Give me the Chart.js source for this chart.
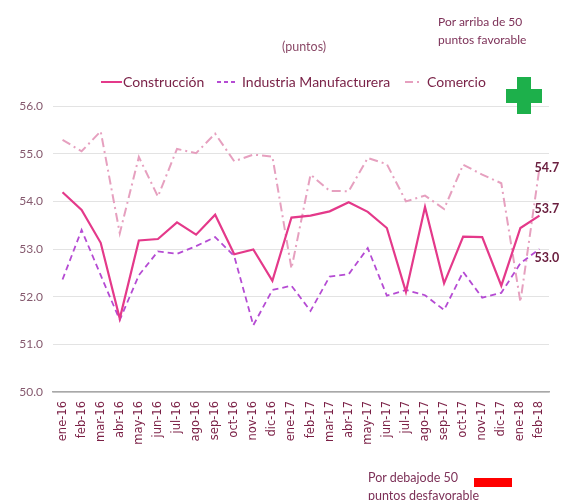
<!DOCTYPE html>
<html>
<head>
<meta charset="utf-8">
<script src="https://cdn.jsdelivr.net/npm/chart.js@4.4.1/dist/chart.umd.min.js"></script>
<style>
  html, body { margin: 0; padding: 0; background: #ffffff; }
  #wrap { position: relative; width: 567px; height: 500px; overflow: hidden; }
  #c { position: absolute; left: 0; top: 0; }
  .note { position: absolute; font-family: Lato, "Open Sans", sans-serif; color: #7d3158; white-space: nowrap; }
</style>
</head>
<body>
<div id="wrap">
  <canvas id="c" width="567" height="500"></canvas>
  <div class="note" style="left:282px; top:39px; font-size:12.5px; line-height:16px; color:#8b4a68;">(puntos)</div>
  <div class="note" style="left:438px; top:13px; font-size:12px; line-height:18px;">Por arriba de 50<br>puntos favorable</div>
  <div class="note" style="left:368px; top:469px; font-size:12.5px; line-height:18px;">Por debajode 50<br>puntos desfavorable</div>
  <div style="position:absolute; left:517px; top:77px; width:14px; height:37px; background:#1db04b;"></div>
  <div style="position:absolute; left:506px; top:89px; width:36px; height:14px; background:#1db04b;"></div>
  <div style="position:absolute; left:474px; top:478px; width:38px; height:9px; background:#ff0000;"></div>
</div>
<script>
const categories = ["ene-16","feb-16","mar-16","abr-16","may-16","jun-16","jul-16","ago-16","sep-16","oct-16","nov-16","dic-16",
  "ene-17","feb-17","mar-17","abr-17","may-17","jun-17","jul-17","ago-17","sep-17","oct-17","nov-17","dic-17","ene-18","feb-18"];
const construccion = [54.19, 53.82, 53.13, 51.54, 53.18, 53.21, 53.56, 53.30, 53.72, 52.89, 52.99, 52.33,
  53.66, 53.70, 53.79, 53.98, 53.78, 53.44, 52.10, 53.88, 52.28, 53.26, 53.25, 52.23, 53.44, 53.7];
const industria = [52.36, 53.40, 52.45, 51.51, 52.45, 52.95, 52.90, 53.06, 53.25, 52.85, 51.40, 52.14,
  52.23, 51.70, 52.42, 52.47, 53.02, 52.02, 52.14, 52.03, 51.72, 52.52, 51.98, 52.08, 52.70, 53.0];
const comercio = [55.29, 55.05, 55.47, 53.33, 54.93, 54.10, 55.10, 55.01, 55.42, 54.84, 54.98, 54.94,
  52.59, 54.56, 54.22, 54.21, 54.91, 54.78, 54.00, 54.12, 53.84, 54.77, 54.56, 54.38, 51.89, 54.7];
const seriesNames = ["Construcción", "Industria Manufacturera", "Comercio"];
const yMin = 50, yMax = 56, yStep = 1;

const maroon = '#7a2348';

const customLegend = {
  id: 'customLegend',
  afterDraw(chart) {
    const ctx = chart.ctx;
    const sampleX = [101, 217, 405];
    const sampleW = [21, 20, 15];
    const textX = [123, 242, 427];
    const y = 82;
    ctx.save();
    ctx.font = '14px Lato, "Open Sans", sans-serif';
    ctx.textBaseline = 'middle';
    ctx.textAlign = 'left';
    chart.data.datasets.forEach((ds, i) => {
      ctx.strokeStyle = ds.borderColor;
      ctx.lineWidth = 2;
      ctx.setLineDash(ds.legendDash || []);
      ctx.beginPath();
      ctx.moveTo(sampleX[i], y);
      ctx.lineTo(sampleX[i] + sampleW[i], y);
      ctx.stroke();
      ctx.setLineDash([]);
      ctx.fillStyle = maroon;
      ctx.fillText(ds.label, textX[i], y);
    });
    ctx.restore();
  }
};

const endLabels = {
  id: 'endLabels',
  afterDatasetsDraw(chart) {
    const ctx = chart.ctx;
    const offsets = [-7, 9, 0];
    ctx.save();
    ctx.font = 'bold 12.5px Lato, "Open Sans", sans-serif';
    ctx.fillStyle = '#6b2040';
    ctx.textAlign = 'left';
    ctx.textBaseline = 'middle';
    chart.data.datasets.forEach((ds, i) => {
      const meta = chart.getDatasetMeta(i);
      const last = meta.data[meta.data.length - 1];
      const v = ds.data[ds.data.length - 1];
      ctx.fillText(v.toFixed(1), last.x - 5, last.y + offsets[i]);
    });
    ctx.restore();
  }
};

new Chart(document.getElementById('c'), {
  type: 'line',
  data: {
    labels: categories,
    datasets: [
      { label: seriesNames[0], data: construccion, borderColor: '#e4398a', borderWidth: 2.2,
        pointRadius: 0, tension: 0, fill: false, legendDash: [] },
      { label: seriesNames[1], data: industria, borderColor: '#b54bd3', borderWidth: 1.8, borderDash: [6, 4],
        pointRadius: 0, tension: 0, fill: false, legendDash: [4, 3] },
      { label: seriesNames[2], data: comercio, borderColor: '#e6a0bf', borderWidth: 2, borderDash: [9, 4, 2, 4],
        pointRadius: 0, tension: 0, fill: false, legendDash: [8, 4, 2, 4] }
    ]
  },
  options: {
    responsive: false,
    animation: false,
    devicePixelRatio: 1,
    layout: { padding: { left: 0, right: 18, top: 106, bottom: 48 } },
    plugins: {
      legend: { display: false },
      title: { display: false },
      tooltip: { enabled: false }
    },
    scales: {
      x: {
        offset: true,
        grid: { display: false, drawTicks: false },
        border: { display: true, color: '#a8a8a8', width: 1.5 },
        ticks: {
          autoSkip: false, minRotation: 90, maxRotation: 90, padding: 9,
          color: '#7a1f45', font: { family: '"DejaVu Sans", Verdana, sans-serif', size: 11.5 }
        },
        afterFit(scale) { scale.height = 60; }
      },
      y: {
        min: yMin, max: yMax,
        grid: { color: '#e3e3e3', lineWidth: 1, drawTicks: false },
        border: { display: false },
        ticks: {
          stepSize: yStep, padding: 10, color: '#85596e',
          font: { family: 'Lato, "Open Sans", sans-serif', size: 12 },
          callback: v => Number(v).toFixed(1)
        },
        afterFit(scale) { scale.width = 53; }
      }
    }
  },
  plugins: [customLegend, endLabels]
});
</script>
</body>
</html>
